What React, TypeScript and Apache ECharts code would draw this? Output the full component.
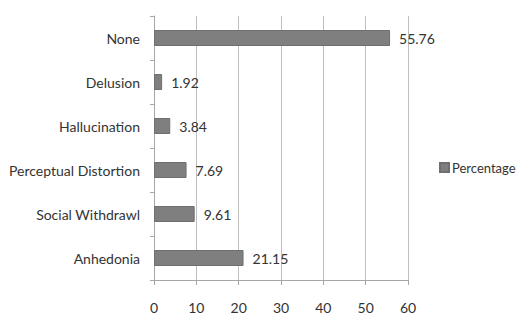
import React, { useEffect, useRef } from "react";
import * as echarts from "echarts";

const categories = ["Anhedonia", "Social Withdrawl", "Perceptual Distortion", "Hallucination", "Delusion", "None"];
const percentages = [21.15, 9.61, 7.69, 3.84, 1.92, 55.76];
const xTicks = [0, 10, 20, 30, 40, 50, 60];
const seriesName = "Percentage";

const FONT = "Lato, 'Open Sans', sans-serif";

export default function App() {
  const ref = useRef<HTMLDivElement>(null);
  useEffect(() => {
    if (!ref.current) return;
    const chart = echarts.init(ref.current, null, { renderer: "svg" });
    chart.setOption({
      animation: false,
      backgroundColor: "#ffffff",
      grid: { left: 154, right: 112, top: 16, bottom: 36, containLabel: false },
      legend: {
        data: [seriesName],
        orient: "vertical",
        left: 439,
        top: 161,
        padding: 0,
        itemWidth: 9,
        itemHeight: 9,
        icon: "rect",
        textStyle: { fontFamily: FONT, fontSize: 13, color: "#333333", padding: [0, 0, 0, -2] },
      },
      xAxis: {
        type: "value",
        min: xTicks[0],
        max: xTicks[xTicks.length - 1],
        interval: 10,
        axisLine: { show: true, lineStyle: { color: "#a6a6a6", width: 1 } },
        axisTick: { show: true, length: 5, lineStyle: { color: "#a6a6a6" } },
        axisLabel: { fontFamily: FONT, fontSize: 14, color: "#333333", margin: 20 },
        splitLine: { show: true, lineStyle: { color: "#bfbfbf", width: 1 } },
      },
      yAxis: {
        type: "category",
        data: categories,
        axisLine: { show: true, lineStyle: { color: "#a6a6a6", width: 1 } },
        axisTick: { show: true, length: 4, lineStyle: { color: "#a6a6a6" } },
        axisLabel: { fontFamily: FONT, fontSize: 14, color: "#333333", margin: 14 },
        splitLine: { show: false },
      },
      series: [
        {
          name: seriesName,
          type: "bar",
          data: percentages,
          barWidth: 16,
          itemStyle: { color: "#7f7f7f", borderColor: "#6f6f6f", borderWidth: 1 },
          label: {
            show: true,
            position: "right",
            distance: 9,
            fontFamily: FONT,
            fontSize: 14,
            color: "#333333",
            formatter: (p: any) => p.value.toFixed(2),
          },
        },
      ],
    });
    return () => chart.dispose();
  }, []);
  return <div ref={ref} style={{ width: 520, height: 316, position: "absolute", left: 0, top: 0 }} />;
}
